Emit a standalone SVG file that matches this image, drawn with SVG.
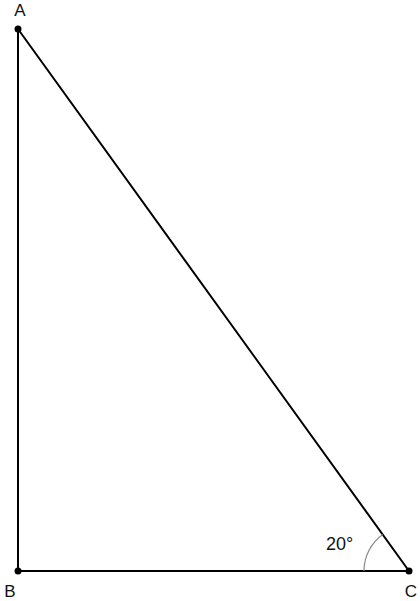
<svg xmlns="http://www.w3.org/2000/svg" width="420" height="601" viewBox="0 0 420 601">
<style>
.edge{stroke:#000;stroke-width:2;fill:none;stroke-linecap:round}
.lbl{font-family:"Liberation Sans",Arial,sans-serif;font-size:17px;fill:#111}
.pt{fill:#000}
</style>
<rect width="420" height="601" fill="#fff"/>
<g id="connectors">
<line class="edge" x1="18" y1="29" x2="18" y2="571"/>
<line class="edge" x1="18" y1="571" x2="409" y2="571"/>
<line class="edge" x1="18" y1="29" x2="409" y2="571"/>
<path d="M364 571 A45 45 0 0 1 382.7 534.5" fill="none" stroke="#888" stroke-width="1.2"/>
</g>
<g id="A"><circle class="pt" cx="18" cy="29" r="3.5"/><text class="lbl" x="20" y="16" text-anchor="middle">A</text></g>
<g id="B"><circle class="pt" cx="18" cy="571" r="3.5"/><text class="lbl" x="10" y="597" text-anchor="middle">B</text></g>
<g id="C"><circle class="pt" cx="409" cy="571" r="3.5"/><text class="lbl" x="411" y="597" text-anchor="middle">C</text></g>
<g id="angle"><text class="lbl" x="326" y="550" style="font-size:18px">20°</text></g>
</svg>
